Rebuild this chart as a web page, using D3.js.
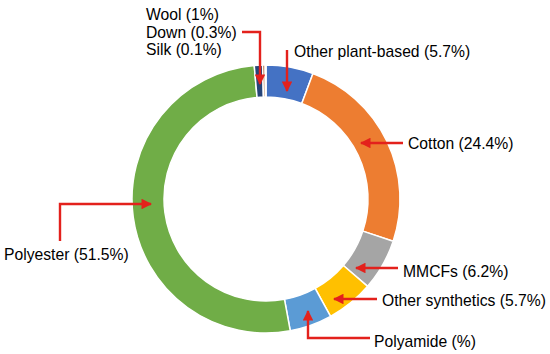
<!DOCTYPE html>
<html>
<head>
<meta charset="utf-8">
<script src="https://cdn.jsdelivr.net/npm/d3@7"></script>
<style>
  body { margin: 0; background: #fff; }
  text { font-family: "Liberation Sans", Arial, sans-serif; }
</style>
</head>
<body>
<div id="chart"></div>
<script>
// Fibre categories, clockwise from 12 o'clock
const categories = ["Other plant-based", "Cotton", "MMCFs", "Other synthetics", "Polyamide", "Polyester", "Wool", "Down", "Silk"];
const shares = [5.7, 24.4, 6.2, 5.7, 5.1, 51.5, 1.0, 0.3, 0.1];
const colors = ["#4472C4", "#ED7D31", "#A5A5A5", "#FFC000", "#5B9BD5", "#70AD47", "#264478", "#9E480E", "#636363"];
const labels = ["Other plant-based (5.7%)", "Cotton (24.4%)", "MMCFs (6.2%)", "Other synthetics (5.7%)", "Polyamide (%)", "Polyester (51.5%)", "Wool (1%)", "Down (0.3%)", "Silk (0.1%)"];

const width = 550, height = 354;
const cx = 266, cy = 199;
const outerR = 134, innerR = 102;

const svg = d3.select("#chart").append("svg")
    .attr("width", width)
    .attr("height", height);

// red arrow head
svg.append("defs").append("marker")
    .attr("id", "arrow")
    .attr("viewBox", "0 0 10 10")
    .attr("refX", 9).attr("refY", 5)
    .attr("markerWidth", 4.4).attr("markerHeight", 4.4)
    .attr("markerUnits", "strokeWidth")
    .attr("orient", "auto")
    .append("path")
    .attr("d", "M0,0 L10,5 L0,10 z")
    .attr("fill", "#E3211C");

const pie = d3.pie().sort(null).value(d => d)(shares);
const arc = d3.arc().innerRadius(innerR).outerRadius(outerR);

const g = svg.append("g").attr("transform", `translate(${cx},${cy})`);
g.selectAll("path")
    .data(pie)
    .join("path")
    .attr("d", arc)
    .attr("fill", (d, i) => colors[i])
    .attr("stroke", "#fff")
    .attr("stroke-width", 1.5);

// leader arrows (annotation layout, hand placed)
const leaders = [
    { pts: [[287, 50], [287, 91]] },                       // Other plant-based
    { pts: [[403, 143], [361, 143]] },                     // Cotton
    { pts: [[398, 268], [356, 268]] },                     // MMCFs
    { pts: [[377, 299], [334, 299]] },                     // Other synthetics
    { pts: [[370, 338], [308, 338], [308, 311]] },         // Polyamide
    { pts: [[60, 241], [60, 204], [151, 204]] },           // Polyester
    { pts: [[242, 32], [260, 32], [260, 84]] }             // Wool/Down/Silk
];
svg.selectAll("path.leader")
    .data(leaders)
    .join("path")
    .attr("class", "leader")
    .attr("d", d => d3.line()(d.pts))
    .attr("fill", "none")
    .attr("stroke", "#E3211C")
    .attr("stroke-width", 2.4)
    .attr("marker-end", "url(#arrow)");

// label placement: [x, baseline]
const labelPos = [
    [294, 56.5], [408, 149], [403, 276.5], [382, 306], [374, 347], [4, 260], [146, 20], [146, 38], [146, 55]
];
svg.selectAll("text.lbl")
    .data(labels)
    .join("text")
    .attr("class", "lbl")
    .attr("x", (d, i) => labelPos[i][0])
    .attr("y", (d, i) => labelPos[i][1])
    .attr("font-size", 15.7)
    .attr("fill", "#000")
    .text(d => d);
</script>
</body>
</html>
